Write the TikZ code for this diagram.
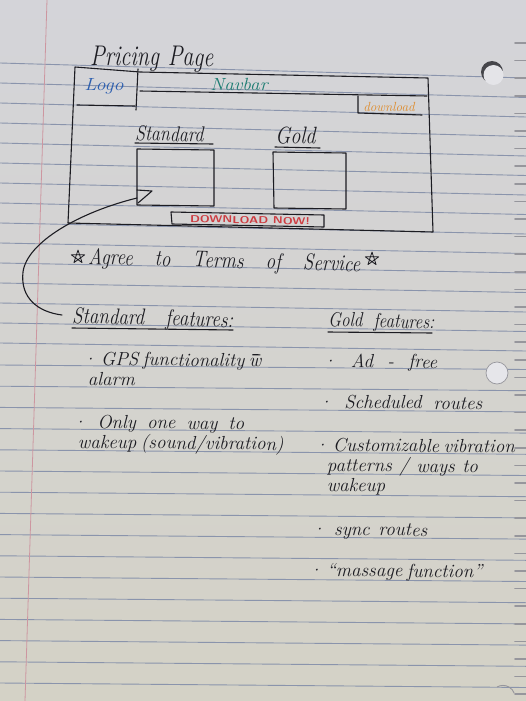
\documentclass[tikz,border=0pt]{standalone}
\usepackage{fontspec}
\definecolor{inkc}{RGB}{28,28,34}
\definecolor{rulec}{RGB}{138,148,172}
\definecolor{marginc}{RGB}{205,150,160}
\definecolor{paperTop}{RGB}{212,212,217}
\definecolor{paperMid}{RGB}{226,226,230}
\definecolor{paperBot}{RGB}{212,210,198}
\definecolor{logoc}{RGB}{45,95,175}
\definecolor{navc}{RGB}{30,125,115}
\definecolor{dlc}{RGB}{222,140,45}
\definecolor{redc}{RGB}{205,60,65}
\definecolor{notchc}{RGB}{150,150,156}
\definecolor{holec}{RGB}{70,70,75}
% handwritten line stretched to a given width
\newcommand\hw[2]{\makebox[#1][s]{#2}}
\newcommand\tall[1]{\scalebox{1}[1.2]{#1}}
% stacked lines on the ruling; the first line carries the baseline
\newcommand\stacklines[2]{\vtop{\baselineskip=#1\lineskiplimit=-40pt\lineskip=0pt #2}}
% "w" with a bar over it (short for "with")
\newcommand\wbar{\rlap{\kern3.5pt\raisebox{11.5pt}{\rule{8pt}{1.1pt}}}w}
\begin{document}
\begin{tikzpicture}[x=1pt,y=-1pt,
  ink/.style={draw=inkc, line width=1.1pt, line cap=round, line join=round},
  rule/.style={draw=rulec, line width=0.9pt},
  hand/.style={font=\fontsize{19}{22}\selectfont\itshape\addfontfeatures{FakeBold=0.6}, text=inkc,
    inner sep=0pt, anchor=base west, rotate=-0.6},
  head/.style={hand, rotate=-1.2},
  starmark/.style={draw=inkc, line width=0.8pt, line join=round},
]
\useasboundingbox (0,0) rectangle (526,701);
% paper
\shade[top color=paperTop, middle color=paperMid, bottom color=paperBot]
  (0,0) rectangle (526,701);
% ruled lines: upper and lower halves of the sheet
\foreach \k in {0,...,14}
  \draw[rule] (0,{63+20*\k}) -- (526,{78+19.5*\k});
\foreach \k in {15,...,30}
  \draw[rule] (0,{365+21.2*(\k-15)}) -- (526,{369.5+21.2*(\k-15)});
% margin
\draw[marginc, line width=0.8pt] (47,0) -- (25,701);
% perforated edge
\foreach \i in {0,...,37}
  \draw[notchc, line width=1.6pt, line cap=round] (515,{43+17.6*\i}) -- (526,{43+17.6*\i});
% binder holes
\fill[holec] (492,72) circle (11);
\fill[paperMid!92!white] (493.5,75) circle (10);
\draw[notchc, line width=0.7pt, fill=paperMid!85!white] (497,373) circle (11);
\draw[notchc, line width=0.9pt] (497,687) arc (-120:-20:12);

% page wireframe
\draw[ink] (75,67) -- (140,72) -- (428,78) -- (433,232) -- (68,223) -- cycle;
\draw[ink] (138,69) -- (136,110);
\draw[ink] (77,105) -- (135,106);
\draw[ink] (140,91) -- (427,96);
\draw[ink] (358,96) -- (358,113) -- (422,115);
\draw[ink] (137,149) -- (214,150) -- (214,206) -- (137,205) -- cycle;
\draw[ink] (273,152) -- (346,153) -- (346,209) -- (274,208) -- cycle;
\draw[ink] (171,212) -- (324,215) -- (324,227) -- (172,224) -- cycle;

% headings inside the page
\node[hand, rotate=0, font=\fontsize{22}{24}\selectfont\itshape\addfontfeatures{FakeBold=0.6}] (title) at (90,65)
  {\scalebox{1}[1.3]{\makebox[123pt][s]{Pricing Page}}};
\node[text=logoc, font=\fontsize{16}{18}\selectfont\itshape\addfontfeatures{FakeBold=0.8}, inner sep=0pt] (logo) at (104,86)
  {\scalebox{1.25}[1.1]{Logo}};
\node[text=navc, font=\fontsize{16}{18}\selectfont\itshape\addfontfeatures{FakeBold=0.8}, inner sep=0pt] (navbar) at (239,84.5)
  {\scalebox{1.2}[1.1]{Navbar}};
\node[text=dlc, font=\fontsize{12}{14}\selectfont\itshape\addfontfeatures{FakeBold=0.8}, inner sep=0pt] (dl) at (389,107)
  {\scalebox{1.1}[1.1]{download}};
\node[head, font=\fontsize{18}{20}\selectfont\itshape\addfontfeatures{FakeBold=0.6}] (std) at (135,140) {\tall{\hw{78pt}{Standard}}};
\node[head, font=\fontsize{20}{22}\selectfont\itshape\addfontfeatures{FakeBold=0.6}] (gold) at (275,143) {\tall{Gold}};
\draw[ink] (135,143) -- (213,144);
\draw[ink] (275,147) -- (320,148);
\node[text=redc, font=\fontsize{10}{12}\selectfont\sffamily\bfseries, inner sep=0pt, rotate=-1] (dlnow) at (250,220)
  {\scalebox{1.25}[1]{\addfontfeatures{LetterSpace=18}DOWNLOAD NOW!}};

% terms line with stars
\node[hand, rotate=-1] (terms) at (88,264) {\tall{\hw{272pt}{Agree to Terms of Service}}};
\begin{scope}[shift={(78,257)}]
  \draw[starmark] (-90:7) -- (54:7) -- (198:7) -- (342:7) -- (126:7) -- cycle;
\end{scope}
\begin{scope}[shift={(372,259)}]
  \draw[starmark] (-90:7) -- (54:7) -- (198:7) -- (342:7) -- (126:7) -- cycle;
\end{scope}

% feature lists
\node[hand, rotate=-1] (sfeat) at (72,323) {\tall{\hw{161pt}{Standard features:}}};
\draw[ink] (72,328) -- (233,330);
\node[hand, rotate=-1, font=\fontsize{17}{20}\selectfont\itshape\addfontfeatures{FakeBold=0.6}] (gfeat) at (328,326) {\tall{\hw{106pt}{Gold features:}}};
\draw[ink] (328,332) -- (432,333);

\node[hand] (s1) at (82,365) {\stacklines{20pt}{%
  \hbox{\hw{176pt}{· GPS functionality \wbar}}
  \hbox{\kern6pt alarm}}};
\node[hand] (s2) at (72,428) {\stacklines{20pt}{%
  \hbox{\hw{172pt}{· Only one way to}}
  \hbox{\kern6pt\hw{194pt}{wakeup (sound/vibration)}}}};

\node[hand] (g1) at (322,367) {\hw{115pt}{· Ad - free}};
\node[hand] (g2) at (318,408) {\hw{164pt}{· Scheduled routes}};
\node[hand] (g3) at (314,451) {\stacklines{20pt}{%
  \hbox{\hw{186pt}{· Customizable vibration}}
  \hbox{\kern13pt\hw{151pt}{patterns / ways to}}
  \hbox{\kern13pt wakeup}}};
\node[hand] (g4) at (311,535) {\hw{116pt}{· sync routes}};
\node[hand] (g5) at (308,576) {\hw{157pt}{· ``massage function''}};

% link from the standard features to the standard box
\coordinate (linkStart) at (62,315);
\coordinate (linkTip) at (152,191);
\coordinate (linkEnd) at (137,198);
\draw[ink] (linkStart) .. controls (38,312) and (20,298) .. (23,272)
  .. controls (27,242) and (80,212) .. (linkEnd);
\draw[ink] (137,190) -- (linkTip) -- (138,203);
\end{tikzpicture}
\end{document}
